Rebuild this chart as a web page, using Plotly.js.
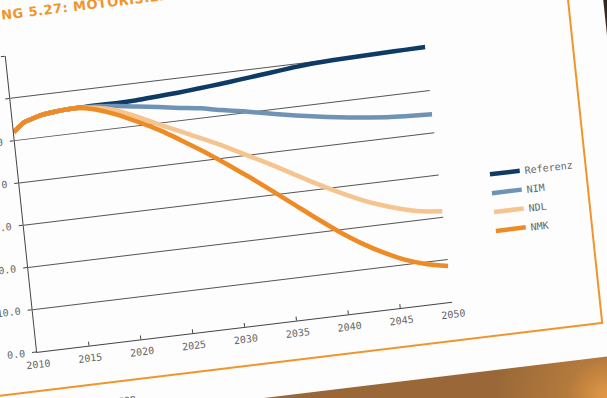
<!DOCTYPE html>
<html>
<head>
<meta charset="utf-8">
<script src="https://cdn.plot.ly/plotly-3.0.1.min.js"></script>
<style>
  html, body { margin: 0; padding: 0; }
  body {
    width: 607px; height: 398px; overflow: hidden; position: relative;
    background:
      radial-gradient(circle at 100% 100%, #e39a46 0px, #b47a3d 40px, rgba(155,104,56,0) 110px),
      linear-gradient(180deg, #2f2820 0%, #6b4a2c 35%, #9a6838 90%);
  }
  #wrap {
    position: absolute; left: -83px; top: -6.5px;
    width: 738px; height: 457.5px;
    transform-origin: 120px 357.5px;
    transform: matrix(0.993, -0.120, 0.105, 0.993, 0, 0);
  }
  #paper {
    position: absolute; left: -600px; top: -600px;
    width: 1320px; height: 1031px; background: #fdfdfd;
  }
  #frame {
    position: absolute; left: -400px; top: -400px;
    width: 1086px; height: 797.5px; box-sizing: border-box;
    border: 2.5px solid #f0952c;
  }
  #chart { position: absolute; left: 0; top: 0; width: 738px; height: 457.5px; }
  #chart .gtitle { letter-spacing: 0.5px; }
</style>
</head>
<body>
<div id="wrap">
  <div id="paper"></div>
  <div id="frame"></div>
  <div id="chart"></div>
</div>
<script>
// ---- data (Motorisierungsgrad, %) ----
const years = [2010, 2011, 2012, 2013, 2014, 2015, 2016, 2017, 2018, 2020, 2022, 2024, 2026, 2028, 2030, 2032, 2034, 2036, 2038, 2040, 2042, 2044, 2046, 2048, 2050];
const referenz = [52.0, 53.9, 54.7, 55.3, 55.6, 55.8, 55.9, 55.9, 55.95, 55.9, 56.0, 56.3, 56.6, 57.0, 57.4, 57.9, 58.4, 58.9, 59.4, 59.7, 59.9, 60.0, 60.1, 60.2, 60.3];
const nim      = [52.0, 53.9, 54.7, 55.3, 55.6, 55.8, 55.9, 55.8, 55.7, 55.2, 54.5, 53.8, 53.0, 52.3, 51.3, 50.4, 49.4, 48.4, 47.5, 46.7, 46.0, 45.4, 44.9, 44.6, 44.4];
const ndl      = [52.0, 53.9, 54.7, 55.3, 55.6, 55.8, 55.9, 55.7, 55.4, 54.2, 52.0, 49.6, 47.3, 45.0, 42.6, 40.0, 37.4, 34.6, 31.8, 29.2, 26.8, 24.8, 23.2, 22.0, 21.4];
const nmk      = [52.0, 53.9, 54.7, 55.3, 55.6, 55.8, 55.9, 55.6, 55.0, 53.2, 50.8, 48.2, 45.1, 41.9, 38.4, 34.8, 31.0, 27.1, 23.2, 19.5, 16.2, 13.4, 11.1, 9.5, 8.5];
const seriesNames = ["Referenz", "NIM", "NDL", "NMK"];
const xTicks = [2010, 2015, 2020, 2025, 2030, 2035, 2040, 2045, 2050];
const yTicks = [0, 10, 20, 30, 40, 50, 60, 70];
const titleText = "ABBILDUNG 5.27: MOTORISIERUNGSGRAD";
const sourceText = "Quelle: eigene Berechnungen";

const colors = ["#0e3b66", "#6f93b4", "#f6c48e", "#ef8b24"];
const values = [referenz, nim, ndl, nmk];
const mono = "DejaVu Sans Mono, Liberation Mono, monospace";

const traces = values.map((v, i) => ({
  x: years, y: v, name: seriesNames[i], type: "scatter", mode: "lines",
  line: { color: colors[i], width: 4.5, shape: "spline", smoothing: 0.6 }
}));

const W = 738, H = 457.5, L = 120, T = 60, PW = 418, PH = 297.5;
const layout = {
  width: W, height: H,
  margin: { l: L, r: W - L - PW, t: T, b: H - T - PH, pad: 0 },
  paper_bgcolor: "rgba(0,0,0,0)", plot_bgcolor: "rgba(0,0,0,0)",
  showlegend: true,
  title: {
    text: titleText,
    font: { family: "DejaVu Sans, sans-serif", size: 13, color: "#f0952c", weight: "bold" },
    xref: "container", yref: "container",
    x: (L - 68) / W, xanchor: "left",
    y: 1 - (T + PH - 337 + 3) / H, yanchor: "bottom"
  },
  xaxis: {
    range: [2010, 2050], tickvals: xTicks, ticktext: xTicks.map(String),
    ticks: "inside", ticklen: 4, tickcolor: "#444", tickwidth: 1,
    ticklabelstandoff: 3,
    showline: true, linecolor: "#444", linewidth: 1,
    showgrid: false, zeroline: false, fixedrange: true,
    tickfont: { family: mono, size: 10, color: "#666" }
  },
  yaxis: {
    range: [0, 70], tickvals: yTicks, tickformat: ".1f", ticksuffix: "%",
    ticks: "outside", ticklen: 4, tickcolor: "#444", tickwidth: 1,
    ticklabelstandoff: 5,
    showline: true, linecolor: "#444", linewidth: 1,
    showgrid: true, gridcolor: "#555", gridwidth: 1,
    zeroline: false, fixedrange: true,
    tickfont: { family: mono, size: 10, color: "#666" }
  },
  legend: {
    x: (469 - 5) / PW, xanchor: "left", xref: "paper",
    y: (122.5 + 14) / PH, yanchor: "top", yref: "paper",
    bgcolor: "rgba(0,0,0,0)",
    font: { family: mono, size: 10, color: "#666" }
  },
  annotations: [{
    text: sourceText, xref: "paper", yref: "paper",
    x: 96 / PW, xanchor: "right", y: -50 / PH, yanchor: "top",
    showarrow: false, font: { family: mono, size: 10, color: "#555" }
  }]
};

Plotly.newPlot("chart", traces, layout, { displayModeBar: false, staticPlot: true });
</script>
</body>
</html>
